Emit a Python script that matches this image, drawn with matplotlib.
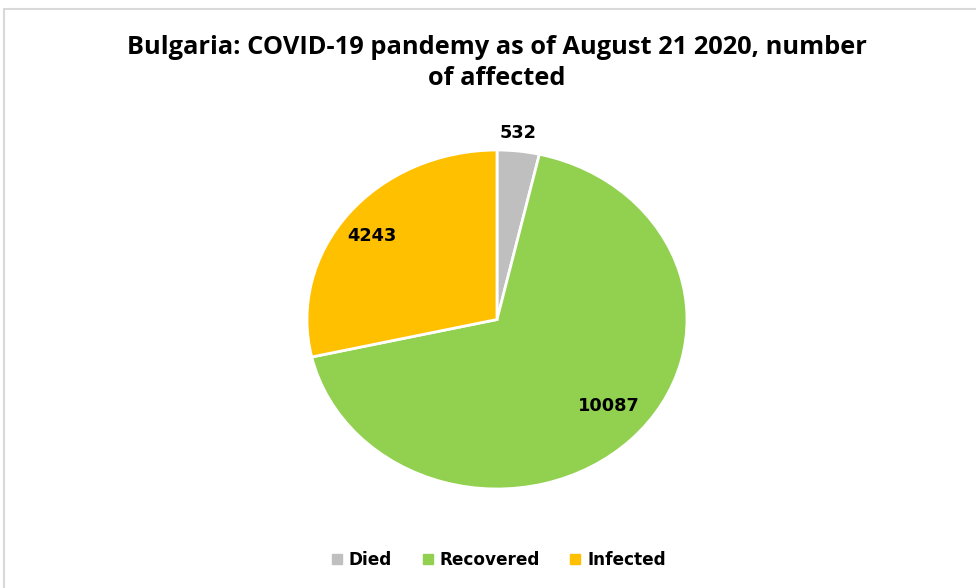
import matplotlib
matplotlib.use("Agg")
import matplotlib.pyplot as plt
from matplotlib.patches import Rectangle
from matplotlib.lines import Line2D

categories = ["Died", "Recovered", "Infected"]
values = [532, 10087, 4243]
colors = ["#BFBFBF", "#92D050", "#FFC000"]
title = "Bulgaria: COVID-19 pandemy as of August 21 2020, number\nof affected"

W, H = 976, 588
fig = plt.figure(figsize=(W / 100, H / 100), dpi=100)
fig.patch.set_facecolor("white")

# chart border
fig.patches.append(Rectangle((4 / W, -0.05), 1.2, (588 - 9) / H + 0.05,
                             transform=fig.transFigure, fill=False,
                             edgecolor="#D9D9D9", linewidth=1.5))

ax = fig.add_axes([307 / W, (588 - 489) / H, 380 / W, 339 / H])
wedges, _ = ax.pie(values, colors=colors, startangle=90, counterclock=False,
                   wedgeprops=dict(edgecolor="white", linewidth=2))
ax.set_aspect("auto")
ax.set_xlim(-1, 1)
ax.set_ylim(-1, 1)
ax.axis("off")

label_pos = [(0.11, 1.10), (0.59, -0.51), (-0.66, 0.49)]
for v, (x, y) in zip(values, label_pos):
    ax.text(x, y, str(v), ha="center", va="center", fontsize=12.8,
            fontweight="bold", family="DejaVu Sans", color="#000000")

fig.text(497 / W, 1 - 63 / H, title, ha="center", va="center", fontsize=18.3,
         fontweight="bold", family="Open Sans", color="#000000", linespacing=1.3)

handles = [Line2D([], [], marker="s", linestyle="none", markersize=7.5,
                  markerfacecolor=c, markeredgecolor=c) for c in colors]
fig.legend(handles, categories, loc="center", bbox_to_anchor=(498 / W, 1 - 560 / H),
           ncol=3, frameon=False, prop=dict(family="DejaVu Sans", weight="bold", size=12.2),
           handletextpad=0.3, columnspacing=1.7, handlelength=0.8)

fig.savefig("out.png", dpi=100, facecolor="white")
